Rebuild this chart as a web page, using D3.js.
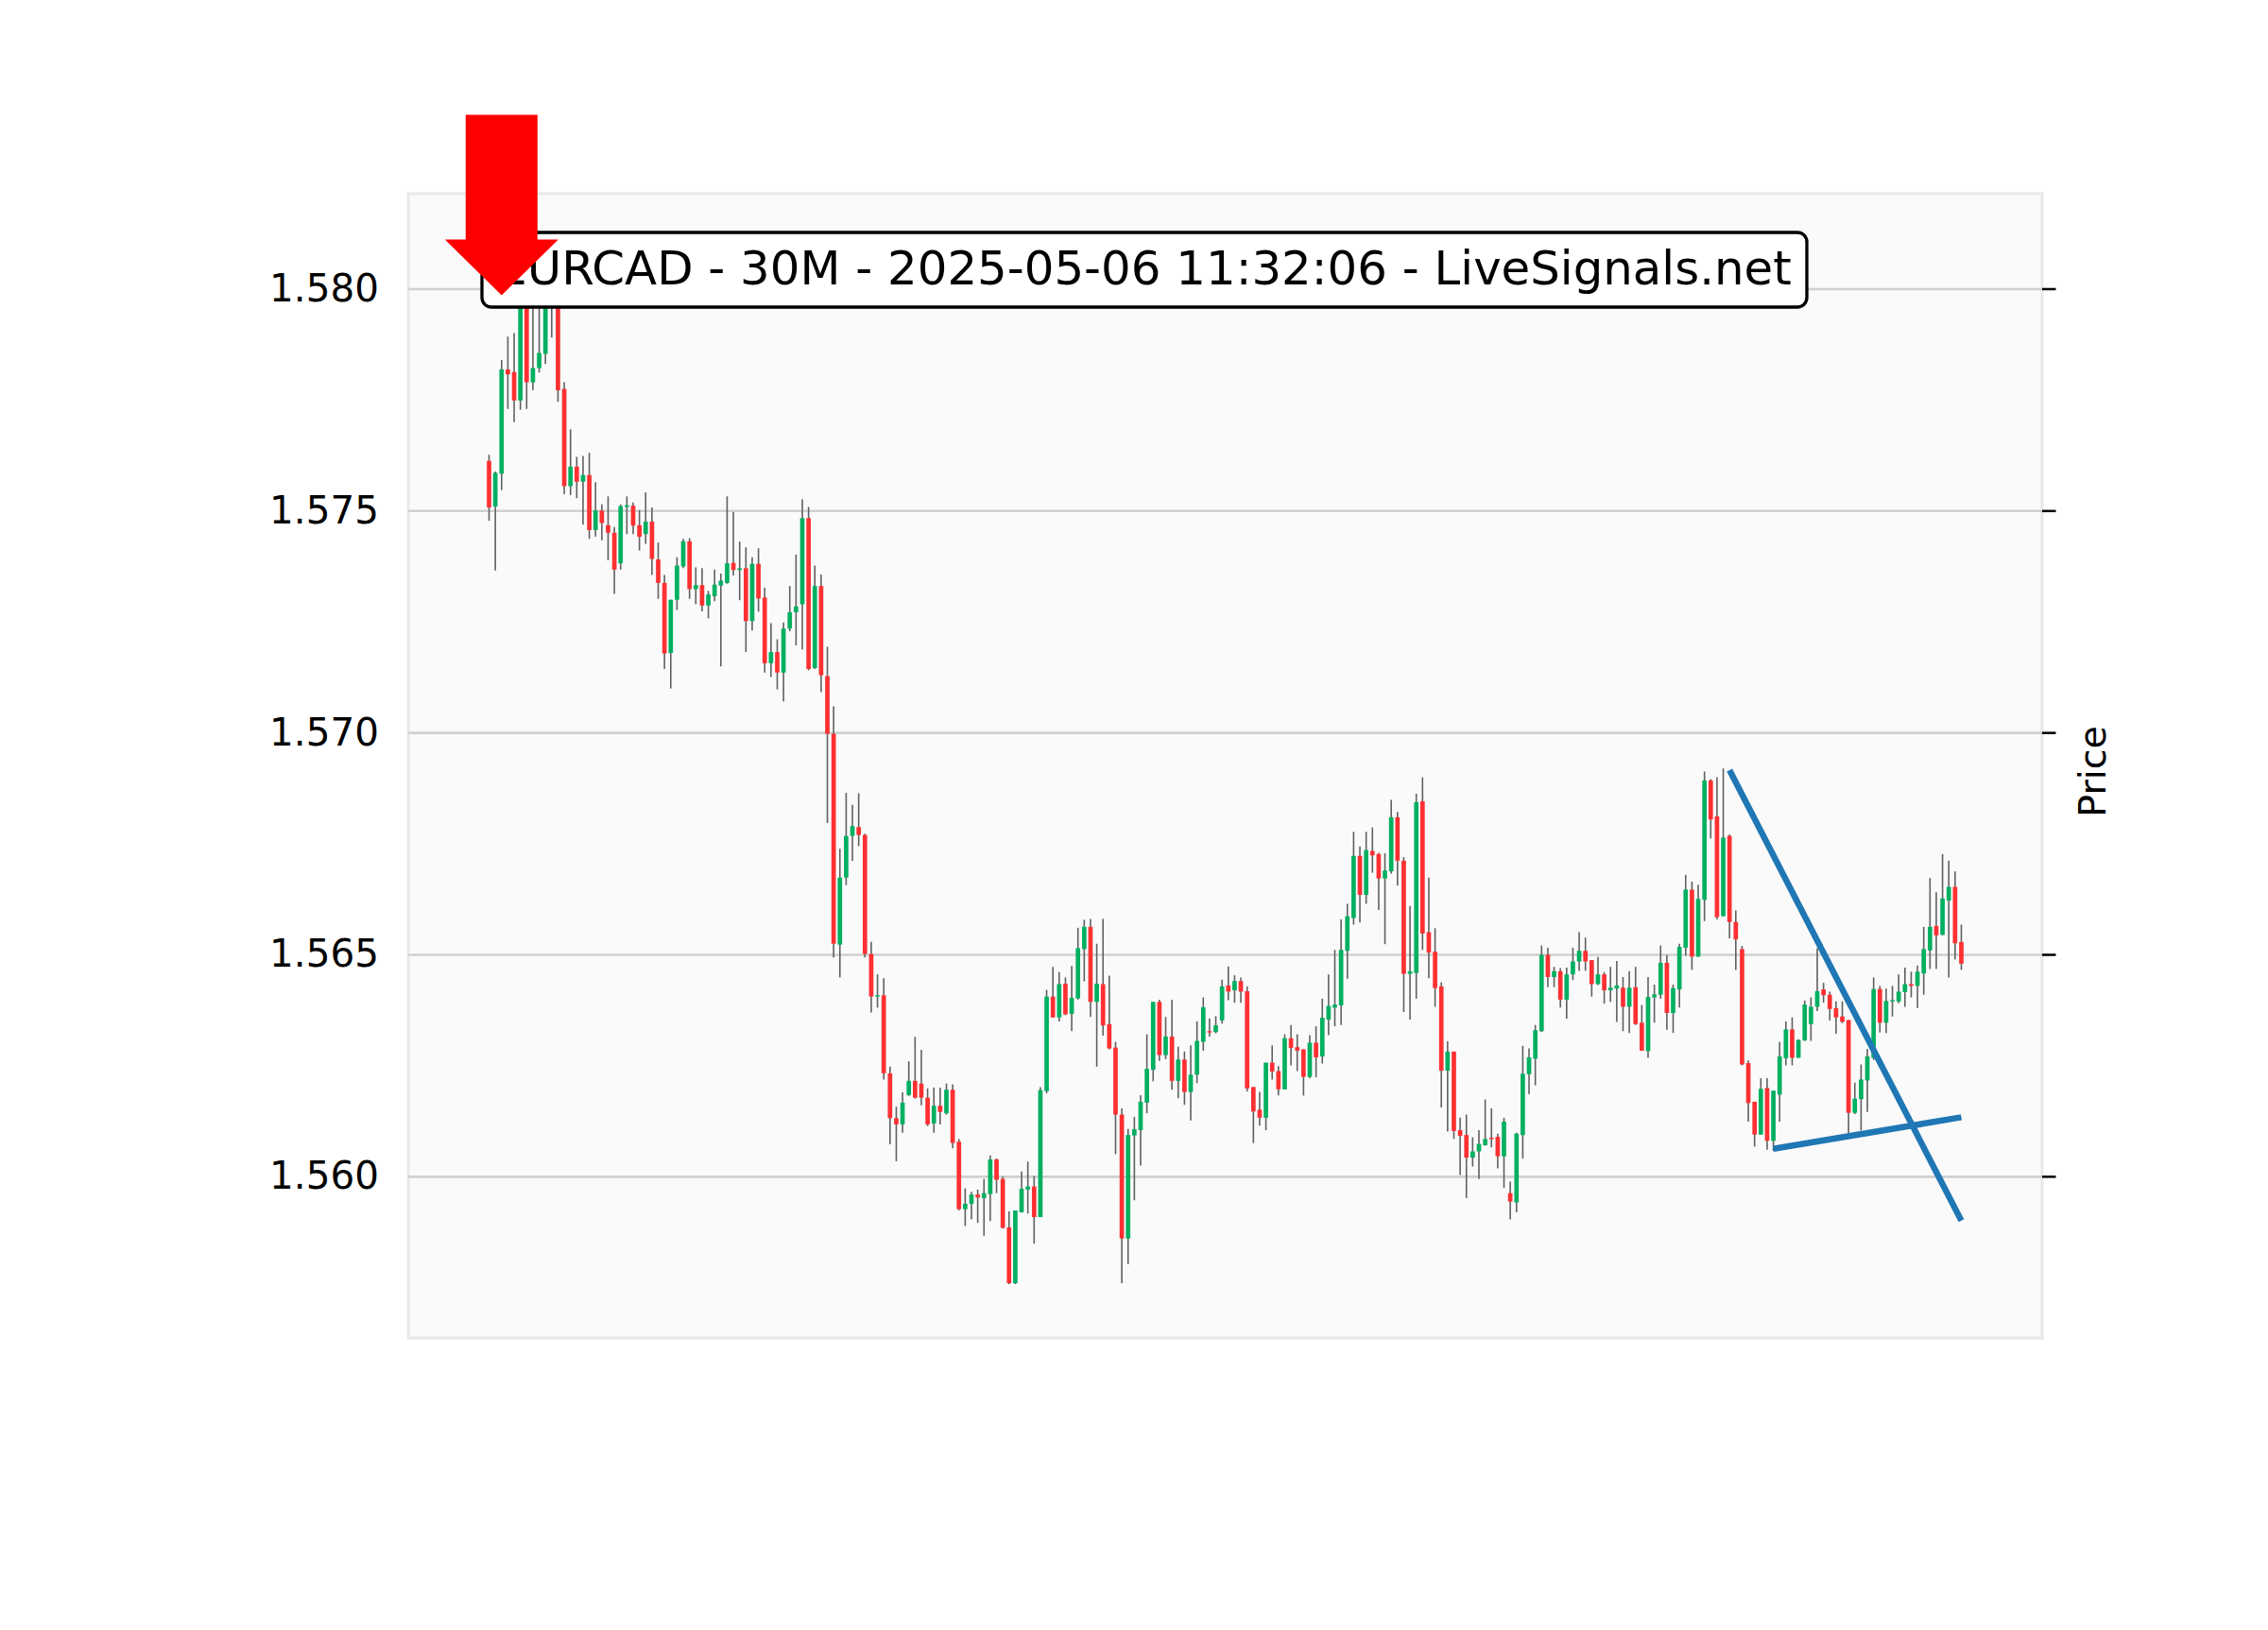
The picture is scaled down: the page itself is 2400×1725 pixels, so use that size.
<!DOCTYPE html>
<html>
<head>
<meta charset="utf-8">
<script src="https://cdn.jsdelivr.net/npm/d3@7"></script>
<style>
  html, body { margin: 0; padding: 0; background: #ffffff; }
  svg { display: block; font-family: "DejaVu Sans", sans-serif; }
</style>
</head>
<body>
<div id="chart"></div>
<script>
// EURCAD 30M candles (index = candle number)
var opens = [
  1.57612,1.57509,1.57583,1.57818,1.57812,1.57748,1.58010,1.57789,1.57821,1.57853,
  1.58010,1.58010,1.57774,1.57555,1.57599,1.57565,1.57580,1.57456,1.57500,1.57467,
  1.57450,1.57381,1.57508,1.57511,1.57467,1.57447,1.57475,1.57390,1.57337,1.57179,
  1.57299,1.57374,1.57431,1.57323,1.57332,1.57286,1.57307,1.57331,1.57337,1.57382,
  1.57366,1.57370,1.57251,1.57380,1.57304,1.57156,1.57181,1.57135,1.57234,1.57271,
  1.57289,1.57483,1.57145,1.57330,1.57127,1.56997,1.56522,1.56673,1.56767,1.56787,
  1.56769,1.56501,1.56405,1.56408,1.56232,1.56131,1.56117,1.56183,1.56215,1.56209,
  1.56177,1.56119,1.56159,1.56142,1.56195,1.56078,1.55926,1.55938,1.55959,1.55951,
  1.55960,1.56038,1.55994,1.55885,1.55759,1.55919,1.55970,1.55977,1.55908,1.56192,
  1.56405,1.56358,1.56434,1.56366,1.56401,1.56512,1.56562,1.56393,1.56433,1.56343,
  1.56290,1.56139,1.55860,1.56092,1.56104,1.56166,1.56240,1.56393,1.56273,1.56315,
  1.56215,1.56263,1.56190,1.56229,1.56303,1.56327,1.56325,1.56351,1.56430,1.56419,
  1.56440,1.56417,1.56201,1.56150,1.56132,1.56256,1.56237,1.56196,1.56311,1.56291,
  1.56286,1.56224,1.56301,1.56270,1.56353,1.56380,1.56385,1.56508,1.56582,1.56722,
  1.56634,1.56733,1.56726,1.56671,1.56687,1.56809,1.56711,1.56456,1.56458,1.56845,
  1.56550,1.56506,1.56428,1.56238,1.56281,1.56104,1.56093,1.56042,1.56056,1.56070,
  1.56087,1.56089,1.56045,1.55962,1.55941,1.56093,1.56230,1.56265,1.56327,1.56499,
  1.56449,1.56462,1.56398,1.56455,1.56484,1.56508,1.56487,1.56433,1.56455,1.56419,
  1.56423,1.56425,1.56382,1.56426,1.56346,1.56282,1.56403,1.56409,1.56481,1.56368,
  1.56421,1.56515,1.56646,1.56495,1.56623,1.56892,1.56811,1.56586,1.56767,1.56573,
  1.56512,1.56255,1.56168,1.56094,1.56199,1.56080,1.56184,1.56266,1.56331,1.56267,
  1.56306,1.56343,1.56382,1.56421,1.56409,1.56379,1.56360,1.56352,1.56143,1.56174,
  1.56216,1.56267,1.56422,1.56346,1.56394,1.56394,1.56415,1.56433,1.56429,1.56457,
  1.56509,1.56564,1.56544,1.56621,1.56652,1.56528
];
var highs = [
  1.57626,1.57588,1.57839,1.57892,1.57900,1.58040,1.58060,1.57990,1.57980,1.58030,
  1.58070,1.58040,1.57789,1.57683,1.57621,1.57623,1.57630,1.57564,1.57514,1.57532,
  1.57463,1.57514,1.57532,1.57518,1.57501,1.57541,1.57507,1.57428,1.57355,1.57299,
  1.57395,1.57436,1.57438,1.57372,1.57370,1.57319,1.57367,1.57358,1.57532,1.57497,
  1.57430,1.57417,1.57395,1.57415,1.57326,1.57246,1.57210,1.57248,1.57330,1.57401,
  1.57525,1.57508,1.57376,1.57356,1.57193,1.57059,1.56738,1.56864,1.56837,1.56863,
  1.56772,1.56528,1.56455,1.56446,1.56247,1.56157,1.56189,1.56259,1.56314,1.56285,
  1.56198,1.56200,1.56200,1.56209,1.56207,1.56084,1.55973,1.55965,1.55970,1.55994,
  1.56047,1.56040,1.55999,1.55921,1.55923,1.56011,1.56033,1.56001,1.56201,1.56420,
  1.56472,1.56460,1.56448,1.56474,1.56560,1.56578,1.56580,1.56524,1.56580,1.56452,
  1.56303,1.56153,1.56107,1.56134,1.56183,1.56320,1.56393,1.56398,1.56359,1.56398,
  1.56292,1.56281,1.56295,1.56349,1.56403,1.56356,1.56361,1.56443,1.56473,1.56453,
  1.56448,1.56428,1.56201,1.56190,1.56256,1.56295,1.56248,1.56320,1.56341,1.56320,
  1.56286,1.56318,1.56338,1.56400,1.56455,1.56510,1.56579,1.56614,1.56776,1.56743,
  1.56776,1.56786,1.56729,1.56728,1.56848,1.56821,1.56719,1.56609,1.56862,1.56899,
  1.56673,1.56559,1.56437,1.56304,1.56281,1.56132,1.56139,1.56088,1.56104,1.56173,
  1.56153,1.56096,1.56132,1.55988,1.56098,1.56294,1.56288,1.56341,1.56520,1.56515,
  1.56472,1.56469,1.56470,1.56515,1.56550,1.56538,1.56487,1.56494,1.56460,1.56472,
  1.56485,1.56449,1.56462,1.56472,1.56386,1.56449,1.56432,1.56520,1.56499,1.56432,
  1.56524,1.56679,1.56664,1.56657,1.56912,1.56895,1.56899,1.56919,1.56770,1.56599,
  1.56519,1.56261,1.56168,1.56221,1.56221,1.56193,1.56303,1.56349,1.56358,1.56309,
  1.56396,1.56403,1.56514,1.56436,1.56416,1.56394,1.56394,1.56352,1.56211,1.56252,
  1.56287,1.56448,1.56429,1.56423,1.56429,1.56455,1.56470,1.56461,1.56475,1.56562,
  1.56672,1.56640,1.56726,1.56711,1.56687,1.56567
];
var lows = [
  1.57477,1.57365,1.57546,1.57729,1.57699,1.57727,1.57729,1.57771,1.57811,1.57830,
  1.57890,1.57745,1.57537,1.57535,1.57528,1.57468,1.57436,1.57441,1.57433,1.57388,
  1.57312,1.57367,1.57447,1.57447,1.57410,1.57425,1.57355,1.57301,1.57143,1.57099,
  1.57276,1.57370,1.57301,1.57289,1.57273,1.57257,1.57296,1.57149,1.57335,1.57354,
  1.57298,1.57181,1.57230,1.57272,1.57135,1.57125,1.57097,1.57070,1.57228,1.57196,
  1.57187,1.57140,1.57143,1.57091,1.56796,1.56493,1.56448,1.56656,1.56711,1.56744,
  1.56493,1.56369,1.56380,1.56218,1.56072,1.56034,1.56098,1.56181,1.56175,1.56160,
  1.56113,1.56098,1.56117,1.56139,1.56063,1.55923,1.55888,1.55903,1.55895,1.55866,
  1.55899,1.55962,1.55882,1.55757,1.55757,1.55918,1.55916,1.55848,1.55908,1.56187,
  1.56358,1.56349,1.56363,1.56327,1.56398,1.56439,1.56359,1.56247,1.56317,1.56286,
  1.56050,1.55759,1.55802,1.55946,1.56024,1.56142,1.56214,1.56260,1.56264,1.56195,
  1.56176,1.56161,1.56126,1.56210,1.56283,1.56315,1.56322,1.56344,1.56397,1.56391,
  1.56391,1.56191,1.56075,1.56114,1.56104,1.56218,1.56182,1.56196,1.56250,1.56237,
  1.56182,1.56221,1.56223,1.56254,1.56318,1.56338,1.56341,1.56445,1.56567,1.56572,
  1.56614,1.56684,1.56600,1.56523,1.56682,1.56655,1.56370,1.56353,1.56400,1.56510,
  1.56446,1.56382,1.56155,1.56101,1.56084,1.56003,1.55951,1.56022,1.55994,1.56069,
  1.56065,1.56018,1.55974,1.55903,1.55919,1.56040,1.56185,1.56205,1.56325,1.56426,
  1.56426,1.56380,1.56355,1.56442,1.56463,1.56463,1.56405,1.56431,1.56389,1.56393,
  1.56348,1.56327,1.56323,1.56341,1.56283,1.56267,1.56346,1.56400,1.56330,1.56323,
  1.56380,1.56497,1.56465,1.56494,1.56575,1.56761,1.56579,1.56586,1.56536,1.56465,
  1.56250,1.56123,1.56067,1.56094,1.56060,1.56057,1.56123,1.56250,1.56250,1.56267,
  1.56305,1.56305,1.56372,1.56391,1.56351,1.56321,1.56345,1.56097,1.56140,1.56103,
  1.56145,1.56262,1.56324,1.56323,1.56360,1.56390,1.56382,1.56403,1.56379,1.56409,
  1.56467,1.56467,1.56543,1.56448,1.56489,1.56465
];
var closes = [
  1.57507,1.57585,1.57818,1.57807,1.57748,1.58000,1.57789,1.57821,1.57855,1.58000,
  1.58030,1.57771,1.57555,1.57599,1.57565,1.57580,1.57456,1.57500,1.57472,1.57450,
  1.57367,1.57510,1.57512,1.57466,1.57441,1.57475,1.57391,1.57337,1.57178,1.57299,
  1.57376,1.57431,1.57323,1.57332,1.57286,1.57311,1.57333,1.57342,1.57381,1.57366,
  1.57370,1.57251,1.57380,1.57302,1.57156,1.57181,1.57135,1.57234,1.57271,1.57284,
  1.57483,1.57143,1.57330,1.57129,1.56997,1.56524,1.56673,1.56767,1.56789,1.56769,
  1.56501,1.56405,1.56408,1.56232,1.56131,1.56117,1.56166,1.56215,1.56177,1.56177,
  1.56117,1.56159,1.56145,1.56195,1.56075,1.55926,1.55938,1.55959,1.55952,1.55962,
  1.56038,1.55992,1.55884,1.55759,1.55923,1.55972,1.55977,1.55908,1.56194,1.56405,
  1.56358,1.56433,1.56365,1.56402,1.56514,1.56562,1.56393,1.56434,1.56340,1.56288,
  1.56139,1.55860,1.56093,1.56106,1.56168,1.56242,1.56393,1.56273,1.56315,1.56215,
  1.56263,1.56190,1.56229,1.56305,1.56381,1.56324,1.56340,1.56428,1.56416,1.56440,
  1.56416,1.56198,1.56146,1.56132,1.56256,1.56236,1.56196,1.56311,1.56289,1.56283,
  1.56224,1.56301,1.56268,1.56357,1.56384,1.56387,1.56510,1.56586,1.56722,1.56634,
  1.56735,1.56723,1.56671,1.56689,1.56809,1.56711,1.56456,1.56462,1.56843,1.56547,
  1.56504,1.56424,1.56238,1.56281,1.56102,1.56091,1.56042,1.56056,1.56073,1.56084,
  1.56084,1.56045,1.56123,1.55943,1.56096,1.56231,1.56268,1.56329,1.56499,1.56449,
  1.56462,1.56398,1.56455,1.56484,1.56508,1.56484,1.56433,1.56455,1.56419,1.56425,
  1.56430,1.56382,1.56425,1.56343,1.56283,1.56404,1.56410,1.56481,1.56368,1.56424,
  1.56517,1.56646,1.56495,1.56625,1.56892,1.56804,1.56584,1.56763,1.56573,1.56534,
  1.56252,1.56165,1.56094,1.56197,1.56080,1.56193,1.56270,1.56331,1.56267,1.56307,
  1.56387,1.56382,1.56417,1.56408,1.56377,1.56358,1.56348,1.56143,1.56175,1.56218,
  1.56270,1.56422,1.56346,1.56395,1.56397,1.56416,1.56433,1.56429,1.56461,1.56512,
  1.56562,1.56543,1.56626,1.56652,1.56525,1.56479
];

var priceTicks = [1.560, 1.565, 1.570, 1.575, 1.580];

// trend lines: [startIndex, startPrice, endIndex, endPrice]
var trendLines = [
  [198, 1.56915, 235, 1.55900],
  [205, 1.56062, 235, 1.56133]
];

// sell signal arrow
var signalIndex = 2;
var signalPrice = 1.57985;

var titleText = "EURCAD - 30M - 2025-05-06 11:32:06 - LiveSignals.net";

var W = 2400, H = 1725;
var margin = {top: 205, right: 239, bottom: 309, left: 432};
var width = W - margin.left - margin.right,
    height = H - margin.top - margin.bottom;

var upColor = "#00b060", downColor = "#fe3032", wickColor = "#606060";

var svg = d3.select("#chart").append("svg")
    .attr("width", W)
    .attr("height", H);

var g = svg.append("g")
    .attr("transform", "translate(" + margin.left + "," + margin.top + ")");

var x = d3.scaleLinear()
    .domain([-12.9, opens.length - 1 + 12.9])
    .range([0, width]);
var y = d3.scaleLinear()
    .domain([1.556356, 1.582139])
    .range([height, 0]);

// plot background + frame
g.append("rect")
    .attr("width", width)
    .attr("height", height)
    .style("fill", "#fafafa")
    .style("stroke", "#e8e8e8")
    .style("stroke-width", 3);

// grid
g.append("g")
    .call(d3.axisLeft(y).tickValues(priceTicks).tickSize(-width).tickFormat(""))
    .call(function(s) {
        s.select(".domain").remove();
        s.selectAll("line").style("stroke", "#d0d0d0").style("stroke-width", 2.6);
    });

// left labels
g.append("g")
    .call(d3.axisLeft(y).tickValues(priceTicks).tickSize(0).tickPadding(31)
        .tickFormat(d3.format(".3f")))
    .call(function(s) {
        s.select(".domain").remove();
        s.selectAll("text")
            .style("font-family", "DejaVu Sans")
            .style("font-size", "40.5px")
            .style("fill", "#000");
    });

// right tick marks
g.append("g")
    .attr("transform", "translate(" + width + ",0)")
    .call(d3.axisRight(y).tickValues(priceTicks).tickSize(14.5).tickFormat(""))
    .call(function(s) {
        s.select(".domain").remove();
        s.selectAll("line").style("stroke", "#000").style("stroke-width", 2.5);
    });

// right axis label
g.append("text")
    .attr("transform", "translate(" + (width + 67) + "," + (height / 2 + 6) + ") rotate(-90)")
    .attr("text-anchor", "middle")
    .style("font-family", "DejaVu Sans")
    .style("font-size", "39.5px")
    .style("fill", "#000")
    .text("Price");

var candles = opens.map(function(o, i) {
    return {i: i, o: o, h: highs[i], l: lows[i], c: closes[i]};
});

var bodyW = 4.7;

// wicks
g.append("g").selectAll("line")
    .data(candles)
    .enter().append("line")
    .attr("x1", function(d) { return x(d.i); })
    .attr("x2", function(d) { return x(d.i); })
    .attr("y1", function(d) { return y(d.h); })
    .attr("y2", function(d) { return y(d.l); })
    .style("stroke", wickColor)
    .style("stroke-width", 1.6);

// bodies
g.append("g").selectAll("rect")
    .data(candles)
    .enter().append("rect")
    .attr("x", function(d) { return x(d.i) - bodyW / 2; })
    .attr("width", bodyW)
    .attr("y", function(d) { return y(Math.max(d.o, d.c)); })
    .attr("height", function(d) { return Math.max(1.2, Math.abs(y(d.o) - y(d.c))); })
    .style("fill", function(d) { return d.c >= d.o ? upColor : downColor; });

// trend lines
g.append("g").selectAll("line")
    .data(trendLines)
    .enter().append("line")
    .attr("x1", function(d) { return x(d[0]); })
    .attr("y1", function(d) { return y(d[1]); })
    .attr("x2", function(d) { return x(d[2]); })
    .attr("y2", function(d) { return y(d[3]); })
    .style("stroke", "#1f77b4")
    .style("stroke-width", 6.5)
    .style("stroke-linecap", "butt");

// title box
var boxX = 510 - margin.left, boxY = 246 - margin.top, boxW = 1402, boxH = 79;
g.append("rect")
    .attr("x", boxX)
    .attr("y", boxY)
    .attr("width", boxW)
    .attr("height", boxH)
    .attr("rx", 10)
    .style("fill", "#fff")
    .style("stroke", "#000")
    .style("stroke-width", 3.3);
g.append("text")
    .attr("x", boxX + boxW / 2)
    .attr("y", boxY + 55)
    .attr("text-anchor", "middle")
    .style("font-family", "DejaVu Sans")
    .style("font-size", "49.8px")
    .style("fill", "#000")
    .text(titleText);

// arrow (tip at the signal candle)
var tx = x(signalIndex), ty = y(signalPrice);
var arrow = [
    [tx - 38, ty - 191], [tx + 38, ty - 191], [tx + 38, ty - 59], [tx + 60, ty - 59],
    [tx, ty], [tx - 60, ty - 59], [tx - 38, ty - 59]
];
g.append("path")
    .attr("d", d3.line()(arrow) + "Z")
    .style("fill", "#ff0000");
</script>
</body>
</html>
